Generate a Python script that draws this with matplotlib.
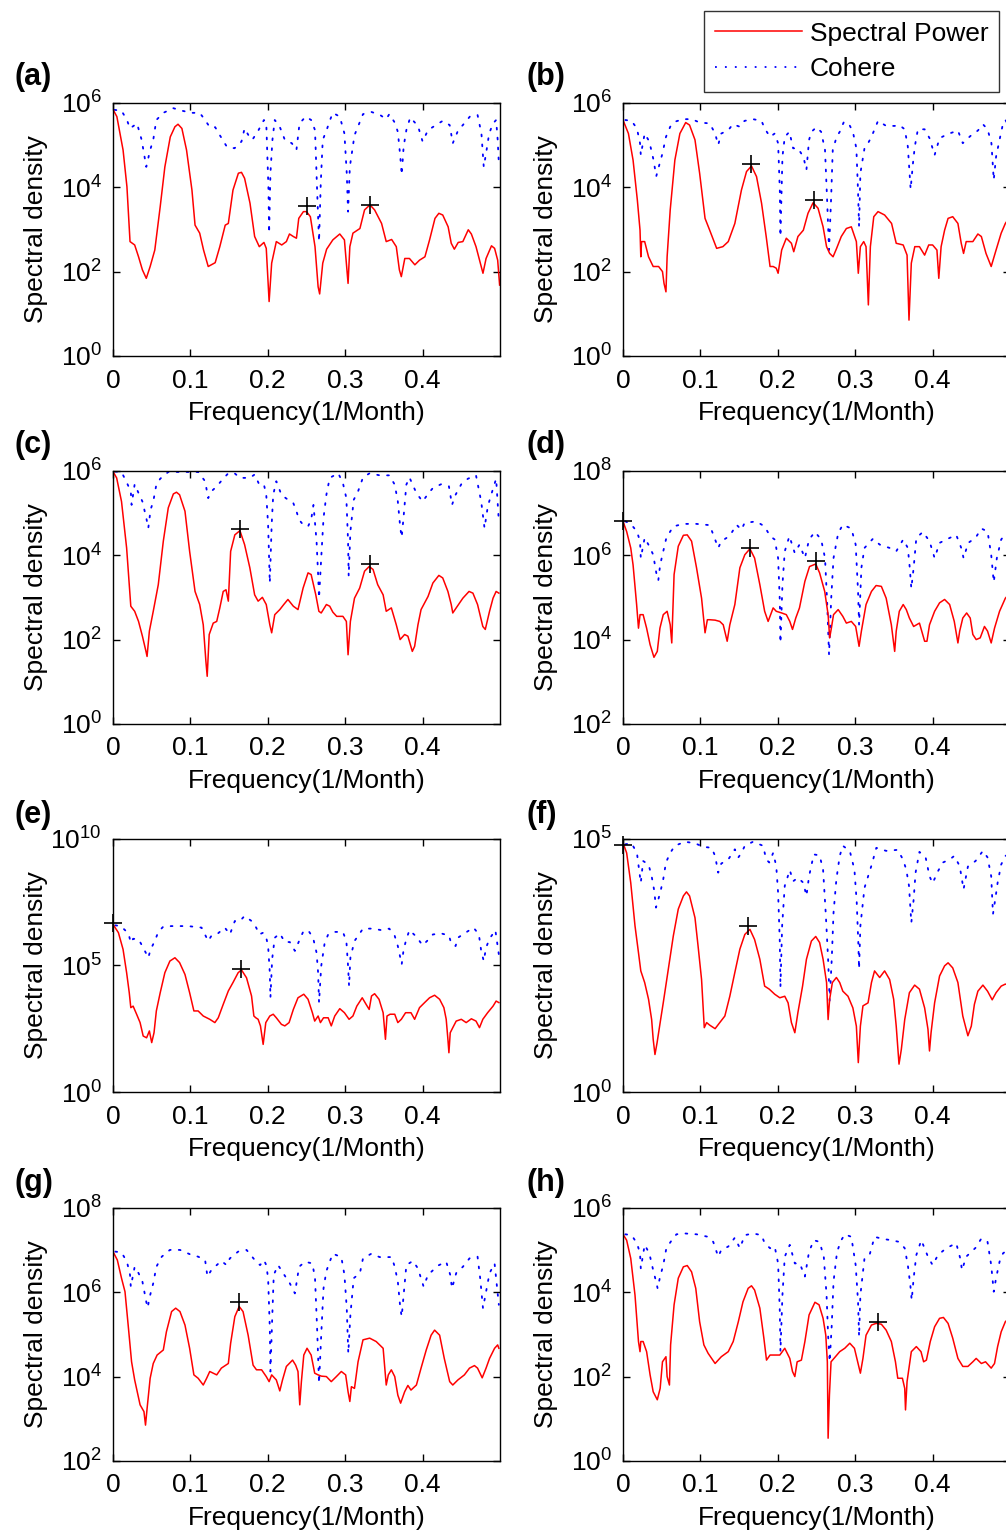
import matplotlib
matplotlib.use('Agg')
import matplotlib.pyplot as plt
import numpy as np
from matplotlib.lines import Line2D

plt.rcParams['font.family'] = ['Liberation Sans', 'DejaVu Sans']
plt.rcParams['mathtext.default'] = 'regular'

# ---------------- data: (frequency 1/month, log10 spectral density) ----------------
A_SPEC = [(0, 5.84), (.005, 5.67), (.013, 4.88), (.018, 4.01), (.022, 2.71), (.028, 2.63), (.033, 2.35), (.038, 2.04),
          (.043, 1.84), (.048, 2.12), (.054, 2.51), (.061, 3.54), (.067, 4.48), (.074, 5.19), (.080, 5.43), (.084, 5.49),
          (.089, 5.39), (.095, 4.88), (.102, 3.93), (.106, 3.10), (.112, 2.91), (.117, 2.51), (.123, 2.12), (.132, 2.21),
          (.138, 2.59), (.145, 3.10), (.149, 3.14), (.155, 3.93), (.162, 4.33), (.166, 4.35), (.170, 4.21), (.177, 3.62),
          (.183, 2.83), (.189, 2.59), (.195, 2.69), (.198, 2.55), (.2017, 1.29), (.205, 2.20), (.211, 2.71), (.218, 2.63),
          (.224, 2.71), (.228, 2.89), (.233, 2.83), (.237, 2.79), (.240, 3.26), (.246, 3.42), (.250, 3.42), (.255, 3.30),
          (.261, 2.59), (.265, 1.64), (.267, 1.47), (.271, 2.20), (.276, 2.53), (.284, 2.75), (.293, 2.89), (.299, 2.75),
          (.3037, 1.72), (.306, 2.59), (.310, 2.91), (.319, 3.02), (.325, 3.46), (.332, 3.58), (.338, 3.46), (.347, 3.14),
          (.353, 2.71), (.360, 2.76), (.366, 2.59), (.370, 2.04), (.3725, 1.88), (.377, 2.31), (.383, 2.31), (.390, 2.16),
          (.396, 2.27), (.403, 2.35), (.409, 2.75), (.416, 3.26), (.421, 3.38), (.426, 3.34), (.433, 3.06), (.437, 2.67),
          (.441, 2.53), (.446, 2.69), (.452, 2.71), (.459, 2.99), (.463, 2.89), (.469, 2.59), (.478, 1.96), (.482, 2.31),
          (.489, 2.61), (.493, 2.55), (.497, 2.27), (.4995, 1.68)]
A_COH = [(.002, 5.83), (.011, 5.81), (.018, 5.59), (.022, 5.39), (.031, 5.51), (.037, 5.12), (.043, 4.48), (.048, 4.88),
         (.052, 5.12), (.056, 5.59), (.065, 5.76), (.078, 5.87), (.089, 5.81), (.102, 5.76), (.112, 5.76), (.119, 5.59),
         (.125, 5.42), (.132, 5.42), (.138, 5.23), (.147, 4.96), (.157, 4.92), (.166, 5.08), (.170, 5.39), (.175, 5.23),
         (.180, 5.12), (.188, 5.35), (.195, 5.59), (.198, 5.53), (.2009, 3.93), (.2017, 2.91), (.2034, 4.33), (.206, 5.12),
         (.209, 5.59), (.215, 5.45), (.222, 5.12), (.231, 5.04), (.237, 4.88), (.241, 5.51), (.249, 5.67), (.256, 5.59),
         (.261, 5.35), (.2637, 3.93), (.2662, 2.71), (.2684, 4.09), (.271, 5.12), (.276, 5.35), (.280, 5.57), (.284, 5.76),
         (.293, 5.67), (.299, 5.27), (.302, 4.33), (.3037, 3.42), (.306, 4.48), (.312, 5.23), (.323, 5.73), (.334, 5.78),
         (.345, 5.71), (.353, 5.61), (.357, 5.73), (.364, 5.53), (.368, 5.31), (.3712, 4.72), (.373, 4.29), (.3755, 4.96),
         (.379, 5.35), (.384, 5.65), (.394, 5.45), (.400, 5.08), (.407, 5.35), (.4155, 5.45), (.426, 5.57), (.435, 5.47),
         (.439, 5.04), (.446, 5.35), (.452, 5.47), (.461, 5.67), (.471, 5.71), (.476, 5.27), (.479, 4.48), (.482, 4.80),
         (.486, 5.27), (.491, 5.51), (.495, 5.59), (.497, 5.12), (.4985, 4.56)]
A_PEAKS = [(.25, 3.56), (.332, 3.58)]

B_SPEC = [(0, 5.59), (.007, 5.27), (.013, 4.64), (.0185, 3.70), (.022, 2.98), (.023, 2.35), (.024, 2.71), (.028, 2.71),
          (.033, 2.35), (.039, 2.12), (.046, 2.12), (.051, 2.00), (.053, 1.72), (.0555, 1.52), (.057, 2.35), (.061, 3.46),
          (.067, 4.64), (.0735, 5.27), (.081, 5.53), (.086, 5.47), (.093, 5.12), (.099, 4.33), (.106, 3.26), (.112, 2.98),
          (.121, 2.55), (.129, 2.59), (.136, 2.71), (.1445, 3.14), (.153, 3.93), (.1596, 4.37), (.166, 4.50), (.1725, 4.25),
          (.179, 3.62), (.185, 2.83), (.190, 2.12), (.194, 2.12), (.198, 2.08), (.2004, 1.96), (.205, 2.51), (.211, 2.79),
          (.2176, 2.67), (.2206, 2.47), (.226, 2.83), (.233, 2.98), (.239, 3.38), (.2456, 3.63), (.252, 3.50), (.2585, 3.06),
          (.263, 2.59), (.267, 2.43), (.2714, 2.35), (.276, 2.55), (.282, 2.83), (.2886, 3.02), (.295, 3.06), (.3015, 2.71),
          (.304, 1.96), (.3067, 2.59), (.311, 2.71), (.314, 2.59), (.317, 1.21), (.3196, 2.59), (.324, 3.30), (.3295, 3.42),
          (.338, 3.34), (.347, 3.14), (.353, 2.67), (.362, 2.63), (.367, 2.39), (.3695, 0.85), (.3725, 2.20), (.377, 2.59),
          (.383, 2.59), (.3897, 2.39), (.395, 2.63), (.400, 2.63), (.4056, 2.51), (.408, 1.84), (.411, 2.59), (.4155, 2.98),
          (.420, 3.26), (.426, 3.30), (.4327, 3.14), (.437, 2.67), (.440, 2.43), (.4434, 2.71), (.452, 2.71), (.4585, 2.89),
          (.463, 2.83), (.469, 2.43), (.4757, 2.12), (.482, 2.51), (.4886, 2.91), (.494, 3.14), (.5, 3.3)]
B_COH = [(.003, 5.59), (.011, 5.57), (.018, 5.39), (.022, 5.04), (.023, 4.76), (.028, 5.27), (.034, 5.08), (.039, 4.68),
         (.043, 4.26), (.048, 4.60), (.051, 4.80), (.0555, 5.19), (.061, 5.43), (.067, 5.55), (.078, 5.61), (.089, 5.61),
         (.099, 5.53), (.112, 5.51), (.119, 5.27), (.123, 5.00), (.127, 5.27), (.136, 5.35), (.142, 5.49), (.151, 5.43),
         (.157, 5.57), (.168, 5.61), (.179, 5.57), (.183, 5.39), (.190, 5.19), (.196, 5.27), (.2004, 5.04), (.2026, 3.93),
         (.2034, 2.83), (.206, 4.72), (.209, 5.19), (.215, 5.31), (.2198, 4.92), (.226, 4.92), (.233, 4.72), (.237, 4.41),
         (.2404, 5.12), (.2434, 5.31), (.25, 5.42), (.256, 5.31), (.261, 4.88), (.2637, 3.70), (.2662, 2.51), (.2688, 3.70),
         (.271, 4.88), (.276, 5.19), (.28, 5.31), (.285, 5.53), (.291, 5.53), (.297, 5.31), (.3015, 4.92), (.3037, 3.89),
         (.305, 3.06), (.3067, 4.33), (.312, 4.92), (.3166, 5.04), (.321, 5.19), (.3295, 5.57), (.340, 5.45), (.351, 5.45),
         (.357, 5.47), (.364, 5.37), (.368, 4.96), (.3716, 3.95), (.3746, 4.56), (.377, 4.96), (.381, 5.37), (.3897, 5.37),
         (.396, 5.16), (.4026, 4.76), (.409, 5.16), (.420, 5.26), (.4327, 5.34), (.439, 5.04), (.4434, 5.12), (.450, 5.23),
         (.4585, 5.34), (.465, 5.49), (.471, 5.37), (.476, 5.04), (.479, 4.17), (.482, 4.72), (.4865, 5.12), (.491, 5.51),
         (.494, 5.59), (.5, 5.4)]
B_PEAKS = [(.166, 4.55), (.2465, 3.70)]

C_SPEC = [(0, 5.98), (.0047, 5.83), (.011, 5.27), (.0176, 4.17), (.023, 2.79), (.028, 2.67), (.033, 2.43), (.038, 2.08),
          (.0426, 1.72), (.044, 1.60), (.047, 2.20), (.052, 2.67), (.0585, 3.30), (.065, 4.33), (.0714, 5.12), (.078, 5.45),
          (.082, 5.49), (.086, 5.43), (.093, 5.04), (.099, 4.09), (.106, 3.14), (.112, 2.83), (.1166, 2.35), (.120, 1.49),
          (.1217, 1.13), (.1243, 2.12), (.1295, 2.39), (.134, 2.43), (.138, 2.75), (.1424, 3.14), (.146, 3.18), (.149, 2.91),
          (.152, 4.09), (.1574, 4.48), (.164, 4.58), (.170, 4.25), (.1768, 3.70), (.183, 3.06), (.1875, 2.91), (.193, 3.00),
          (.198, 2.83), (.2026, 2.35), (.205, 2.16), (.209, 2.59), (.2155, 2.71), (.2206, 2.83), (.226, 2.95), (.233, 2.79),
          (.239, 2.71), (.2456, 3.22), (.252, 3.58), (.256, 3.54), (.262, 3.06), (.266, 2.67), (.269, 2.63), (.2757, 2.83),
          (.280, 2.79), (.284, 2.65), (.289, 2.55), (.297, 2.55), (.3015, 2.43), (.3037, 1.64), (.3067, 2.43), (.312, 2.98),
          (.3187, 3.22), (.325, 3.62), (.331, 3.73), (.336, 3.66), (.342, 3.30), (.349, 3.06), (.353, 2.67), (.3596, 2.75),
          (.366, 2.35), (.371, 2.00), (.3768, 2.12), (.381, 2.08), (.3867, 1.72), (.3897, 1.84), (.394, 2.35), (.398, 2.71),
          (.407, 3.02), (.4133, 3.34), (.421, 3.52), (.426, 3.46), (.4327, 3.14), (.437, 2.83), (.439, 2.63), (.4434, 2.75),
          (.452, 2.98), (.46, 3.14), (.465, 3.10), (.471, 2.83), (.4778, 2.31), (.481, 2.24), (.4865, 2.67), (.491, 2.98),
          (.495, 3.14), (.4985, 3.10)]
C_COH = [(.003, 5.98), (.011, 5.97), (.018, 5.71), (.023, 5.51), (.024, 5.19), (.028, 5.68), (.033, 5.47), (.038, 5.27),
         (.043, 4.88), (.0456, 4.64), (.0486, 5.08), (.052, 5.27), (.056, 5.67), (.061, 5.81), (.0714, 5.97), (.093, 5.97),
         (.110, 5.97), (.119, 5.75), (.123, 5.35), (.127, 5.51), (.133, 5.61), (.1424, 5.81), (.149, 5.94), (.157, 5.94),
         (.164, 5.83), (.1768, 5.83), (.183, 5.91), (.189, 5.67), (.195, 5.67), (.198, 5.43), (.2004, 4.72), (.2026, 3.34),
         (.205, 4.72), (.207, 5.43), (.211, 5.75), (.2176, 5.43), (.224, 5.34), (.233, 5.23), (.237, 5.04), (.2404, 4.84),
         (.2456, 4.72), (.252, 4.68), (.256, 4.84), (.259, 5.19), (.263, 4.33), (.265, 3.54), (.2662, 2.98), (.269, 3.93),
         (.272, 4.88), (.2757, 5.43), (.28, 5.83), (.291, 5.94), (.297, 5.71), (.3015, 5.35), (.3037, 4.33), (.3045, 3.50),
         (.3067, 4.56), (.311, 5.31), (.3166, 5.51), (.323, 5.84), (.3316, 5.94), (.3445, 5.89), (.357, 5.89), (.364, 5.67),
         (.368, 5.27), (.3712, 4.64), (.373, 4.42), (.3755, 4.92), (.379, 5.67), (.383, 5.84), (.392, 5.47), (.400, 5.27),
         (.407, 5.45), (.4133, 5.59), (.424, 5.68), (.434, 5.63), (.438, 5.19), (.4426, 5.43), (.45, 5.68), (.4585, 5.81),
         (.469, 5.89), (.4757, 5.27), (.48, 4.64), (.4843, 5.16), (.4886, 5.43), (.495, 5.81), (.4985, 4.80)]
C_PEAKS = [(.164, 4.62), (.3316, 3.80)]

D_SPEC = [(0, 6.80), (.0047, 6.56), (.01, 6.17), (.013, 5.77), (.0176, 4.83), (.020, 4.27), (.022, 4.59), (.026, 4.59),
          (.0305, 4.27), (.035, 3.88), (.040, 3.58), (.0443, 3.72), (.0477, 4.27), (.052, 4.59), (.057, 4.67), (.061, 4.35),
          (.063, 3.92), (.066, 5.54), (.0714, 6.21), (.078, 6.47), (.083, 6.48), (.0886, 6.33), (.095, 5.70), (.1015, 4.98),
          (.106, 4.16), (.109, 4.47), (.112, 4.47), (.119, 4.46), (.125, 4.43), (.1295, 4.35), (.1346, 3.96), (.138, 4.35),
          (.1445, 4.83), (.151, 5.70), (.1574, 6.01), (.164, 6.15), (.170, 5.93), (.1768, 5.30), (.183, 4.67), (.1875, 4.43),
          (.194, 4.75), (.198, 4.67), (.205, 4.63), (.211, 4.59), (.2155, 4.43), (.219, 4.24), (.2232, 4.51), (.228, 4.75),
          (.235, 5.38), (.241, 5.73), (.249, 5.79), (.254, 5.58), (.2606, 5.14), (.265, 4.59), (.267, 4.04), (.2692, 4.27),
          (.272, 4.59), (.278, 4.71), (.284, 4.55), (.2886, 4.39), (.295, 4.43), (.3006, 4.31), (.305, 3.84), (.308, 4.20),
          (.314, 4.83), (.321, 5.14), (.327, 5.28), (.3338, 5.26), (.340, 4.98), (.3467, 4.35), (.351, 3.72), (.353, 4.20),
          (.357, 4.67), (.362, 4.83), (.366, 4.71), (.370, 4.51), (.3755, 4.31), (.383, 4.39), (.3897, 3.96), (.3927, 3.96),
          (.396, 4.35), (.4026, 4.67), (.409, 4.87), (.4155, 4.95), (.422, 4.83), (.428, 4.43), (.4327, 3.92), (.435, 4.20),
          (.439, 4.51), (.444, 4.63), (.4486, 4.51), (.452, 4.12), (.4563, 4.00), (.4615, 4.04), (.467, 4.31), (.471, 4.20),
          (.4757, 3.92), (.480, 4.27), (.4865, 4.67), (.494, 4.98), (.5, 5.1)]
D_COH = [(.003, 6.80), (.01, 6.74), (.018, 6.56), (.022, 6.33), (.023, 5.93), (.028, 6.41), (.034, 6.21), (.039, 6.01),
         (.043, 5.58), (.0456, 5.40), (.048, 5.77), (.051, 6.01), (.056, 6.41), (.065, 6.68), (.078, 6.74), (.095, 6.74),
         (.112, 6.71), (.119, 6.37), (.123, 6.17), (.127, 6.33), (.134, 6.41), (.140, 6.52), (.1467, 6.72), (.153, 6.60),
         (.157, 6.76), (.172, 6.80), (.183, 6.68), (.190, 6.45), (.196, 6.37), (.2004, 5.93), (.2026, 4.91), (.2034, 3.92),
         (.206, 5.30), (.209, 6.09), (.215, 6.45), (.2219, 6.05), (.228, 6.25), (.235, 5.93), (.2404, 6.37), (.248, 6.55),
         (.256, 6.37), (.261, 5.93), (.2637, 4.91), (.2662, 3.64), (.269, 4.98), (.272, 5.93), (.278, 6.52), (.284, 6.72),
         (.295, 6.63), (.3006, 6.25), (.3037, 5.14), (.305, 4.35), (.308, 5.70), (.312, 6.17), (.323, 6.39), (.3316, 6.25),
         (.3445, 6.17), (.353, 6.09), (.362, 6.37), (.368, 6.17), (.3705, 5.70), (.3725, 5.21), (.3755, 5.70), (.379, 6.41),
         (.3875, 6.55), (.396, 6.33), (.4026, 5.93), (.409, 6.29), (.420, 6.39), (.4305, 6.48), (.437, 6.17), (.440, 5.93),
         (.446, 6.29), (.4555, 6.41), (.463, 6.63), (.471, 6.56), (.4757, 6.01), (.479, 5.36), (.483, 5.93), (.4886, 6.37),
         (.494, 6.50), (.5, 6.4)]
D_PEAKS = [(0, 6.80), (.164, 6.18), (.249, 5.85)]

E_SPEC = [(0, 6.62), (.007, 6.29), (.013, 5.63), (.0176, 4.71), (.021, 3.92), (.023, 3.33), (.026, 3.39), (.0305, 3.07),
          (.035, 2.74), (.039, 2.21), (.0434, 2.14), (.047, 2.41), (.050, 1.95), (.053, 2.34), (.056, 3.20), (.061, 3.92),
          (.067, 4.71), (.0735, 5.17), (.080, 5.30), (.086, 5.11), (.093, 4.64), (.099, 3.92), (.1045, 3.20), (.110, 3.20),
          (.1166, 3.00), (.125, 2.87), (.1316, 2.74), (.136, 2.93), (.1424, 3.46), (.149, 3.99), (.155, 4.32), (.1617, 4.71),
          (.166, 4.82), (.1725, 4.51), (.179, 3.79), (.182, 3.00), (.1845, 2.93), (.1875, 2.87), (.1905, 2.61), (.194, 1.88),
          (.1974, 2.74), (.2026, 3.00), (.207, 3.07), (.211, 2.93), (.2176, 2.67), (.222, 2.61), (.2275, 2.74), (.233, 3.26),
          (.239, 3.72), (.2465, 3.86), (.252, 3.66), (.2576, 3.13), (.2606, 2.80), (.265, 3.00), (.268, 2.74), (.272, 2.93),
          (.278, 2.93), (.282, 2.61), (.2865, 3.00), (.293, 3.29), (.299, 3.13), (.305, 2.87), (.310, 3.00), (.315, 3.39),
          (.322, 3.72), (.327, 3.46), (.331, 3.26), (.334, 3.79), (.338, 3.88), (.3437, 3.66), (.349, 3.13), (.352, 2.08),
          (.354, 3.00), (.358, 3.07), (.364, 3.07), (.368, 2.74), (.3725, 2.87), (.378, 3.13), (.385, 3.13), (.3897, 2.87),
          (.396, 3.33), (.4026, 3.53), (.409, 3.72), (.4155, 3.82), (.422, 3.66), (.4275, 3.33), (.4305, 2.87), (.4327, 2.08),
          (.434, 1.55), (.4357, 2.34), (.439, 2.54), (.4434, 2.80), (.450, 2.87), (.4563, 2.74), (.463, 2.89), (.469, 2.80),
          (.4735, 2.54), (.4778, 2.87), (.484, 3.13), (.491, 3.39), (.495, 3.59), (.4985, 3.53)]
E_COH = [(.003, 6.58), (.01, 6.55), (.020, 6.26), (.023, 5.89), (.026, 6.05), (.033, 6.03), (.039, 5.70), (.0456, 5.30),
         (.0486, 5.63), (.054, 5.96), (.0585, 6.32), (.065, 6.53), (.0757, 6.55), (.097, 6.55), (.1144, 6.49), (.123, 5.96),
         (.127, 6.16), (.134, 6.22), (.1445, 6.49), (.151, 6.22), (.1574, 6.75), (.164, 6.75), (.170, 6.95), (.179, 6.75),
         (.185, 6.49), (.189, 6.22), (.194, 6.29), (.198, 6.09), (.2004, 5.76), (.2026, 4.71), (.2034, 3.72), (.2056, 5.24),
         (.209, 6.09), (.2155, 6.26), (.222, 5.92), (.2284, 5.92), (.235, 5.57), (.2404, 5.96), (.2456, 6.32), (.252, 6.39),
         (.2585, 6.09), (.263, 5.50), (.265, 4.71), (.2662, 3.53), (.269, 4.97), (.2735, 5.89), (.278, 6.22), (.2865, 6.32),
         (.297, 6.32), (.3015, 5.96), (.3037, 4.97), (.305, 4.18), (.3067, 5.30), (.312, 5.96), (.323, 6.45), (.3359, 6.45),
         (.3466, 6.39), (.357, 6.45), (.364, 6.16), (.368, 5.76), (.3703, 5.43), (.373, 5.04), (.3755, 5.63), (.379, 6.03),
         (.383, 6.39), (.392, 6.13), (.400, 5.79), (.407, 6.00), (.4133, 6.22), (.424, 6.26), (.434, 6.18), (.437, 5.87),
         (.4426, 5.76), (.4456, 6.09), (.454, 6.26), (.4658, 6.49), (.4727, 6.22), (.4757, 5.57), (.479, 5.17), (.482, 5.70),
         (.4865, 6.05), (.494, 6.39), (.4985, 5.43)]
E_PEAKS = [(0, 6.66), (.166, 4.84)]

F_SPEC = [(0, 4.92), (.0047, 4.72), (.01, 4.13), (.0155, 3.28), (.020, 2.75), (.023, 2.39), (.028, 2.16), (.033, 1.83),
          (.037, 1.43), (.039, 1.04), (.0413, 0.74), (.044, 0.97), (.048, 1.37), (.052, 1.76), (.0585, 2.42), (.065, 3.08),
          (.0714, 3.61), (.078, 3.87), (.082, 3.95), (.086, 3.87), (.093, 3.44), (.097, 2.88), (.1015, 2.22), (.105, 1.27),
          (.108, 1.37), (.112, 1.32), (.119, 1.25), (.125, 1.37), (.1316, 1.50), (.138, 1.89), (.1445, 2.36), (.151, 2.82),
          (.1574, 3.11), (.164, 3.21), (.170, 3.01), (.1768, 2.62), (.183, 2.09), (.189, 2.03), (.196, 1.93), (.2026, 1.86),
          (.209, 1.89), (.2133, 1.76), (.2176, 1.37), (.222, 1.17), (.226, 1.57), (.232, 2.09), (.237, 2.62), (.2434, 2.98),
          (.249, 3.07), (.254, 2.95), (.2585, 2.62), (.263, 2.16), (.265, 1.43), (.267, 1.83), (.2705, 2.16), (.2757, 2.26),
          (.280, 2.16), (.284, 1.99), (.2907, 1.89), (.297, 1.66), (.3015, 1.30), (.304, 0.58), (.3067, 1.30), (.310, 1.70),
          (.3166, 1.76), (.321, 2.16), (.325, 2.39), (.3316, 2.26), (.338, 2.39), (.3445, 2.22), (.3497, 1.83), (.353, 1.30),
          (.3566, 0.55), (.3596, 0.84), (.364, 1.43), (.370, 1.96), (.3768, 2.11), (.383, 2.03), (.3897, 1.66), (.394, 1.24),
          (.396, 0.81), (.398, 1.17), (.4026, 1.76), (.409, 2.29), (.4155, 2.49), (.420, 2.55), (.426, 2.45), (.4327, 2.16),
          (.439, 1.50), (.4456, 1.11), (.450, 1.30), (.454, 1.73), (.4585, 1.99), (.465, 2.11), (.471, 1.99), (.477, 1.82),
          (.482, 1.96), (.4886, 2.09), (.494, 2.13), (.5, 2.1)]
F_COH = [(.003, 4.89), (.011, 4.91), (.018, 4.72), (.021, 4.36), (.023, 4.13), (.026, 4.56), (.033, 4.49), (.037, 4.26),
         (.0404, 3.97), (.0426, 3.64), (.0456, 3.80), (.0486, 3.97), (.052, 4.20), (.0555, 4.53), (.061, 4.72), (.067, 4.86),
         (.080, 4.94), (.093, 4.91), (.1037, 4.84), (.1144, 4.82), (.119, 4.66), (.123, 4.33), (.127, 4.51), (.136, 4.59),
         (.1445, 4.79), (.149, 4.63), (.153, 4.72), (.1574, 4.86), (.168, 4.94), (.181, 4.86), (.185, 4.59), (.189, 4.53),
         (.194, 4.72), (.198, 4.46), (.2004, 3.93), (.2026, 2.95), (.2034, 2.06), (.2056, 3.28), (.209, 4.07), (.2155, 4.38),
         (.2198, 4.16), (.226, 4.23), (.233, 4.13), (.237, 3.87), (.2404, 4.26), (.2465, 4.69), (.254, 4.67), (.2585, 4.39),
         (.262, 3.51), (.265, 2.62), (.267, 1.80), (.2697, 2.62), (.272, 3.54), (.2757, 4.20), (.280, 4.66), (.284, 4.86),
         (.293, 4.76), (.299, 4.39), (.302, 3.74), (.304, 2.95), (.305, 2.43), (.3067, 3.28), (.312, 4.03), (.321, 4.47),
         (.3273, 4.82), (.340, 4.76), (.355, 4.78), (.3617, 4.59), (.366, 4.39), (.3695, 4.07), (.3725, 3.34), (.3755, 3.80),
         (.378, 4.33), (.383, 4.74), (.391, 4.63), (.396, 4.26), (.400, 4.12), (.407, 4.36), (.4133, 4.53), (.422, 4.59),
         (.428, 4.66), (.435, 4.46), (.440, 4.00), (.4456, 4.45), (.4555, 4.56), (.465, 4.76), (.471, 4.63), (.4757, 4.26),
         (.478, 3.51), (.4813, 3.84), (.484, 4.13), (.4886, 4.49), (.494, 4.66), (.5, 4.7)]
F_PEAKS = [(0, 4.87), (.1617, 3.28)]

G_SPEC = [(0, 6.96), (.0056, 6.76), (.011, 6.33), (.0155, 6.01), (.020, 5.14), (.024, 4.35), (.028, 3.92), (.035, 3.33),
          (.040, 3.17), (.042, 2.85), (.0443, 3.29), (.048, 3.96), (.052, 4.31), (.057, 4.51), (.065, 4.63), (.069, 5.06),
          (.0757, 5.54), (.081, 5.62), (.0865, 5.54), (.093, 5.22), (.099, 4.67), (.1045, 4.04), (.110, 3.96), (.1166, 3.80),
          (.121, 3.96), (.125, 4.12), (.134, 4.04), (.140, 4.20), (.149, 4.31), (.152, 4.79), (.1574, 5.42), (.163, 5.66),
          (.168, 5.54), (.1746, 4.98), (.181, 4.27), (.1854, 4.16), (.192, 4.16), (.198, 4.00), (.2017, 3.88), (.205, 4.04),
          (.211, 3.92), (.2155, 3.66), (.219, 3.92), (.224, 4.24), (.232, 4.39), (.236, 4.27), (.239, 4.12), (.2413, 3.33),
          (.2434, 3.88), (.2465, 4.51), (.2507, 4.67), (.256, 4.51), (.2606, 4.08), (.265, 4.04), (.2692, 4.01), (.2757, 4.00),
          (.282, 3.88), (.2886, 4.00), (.295, 4.12), (.3006, 4.04), (.3037, 3.64), (.306, 3.41), (.308, 3.76), (.312, 3.72),
          (.3166, 4.35), (.323, 4.87), (.3316, 4.91), (.340, 4.83), (.349, 4.67), (.353, 3.80), (.3557, 4.04), (.3596, 4.16),
          (.364, 4.00), (.368, 3.56), (.3716, 3.37), (.3768, 3.64), (.381, 3.79), (.385, 3.68), (.392, 3.80), (.398, 4.20),
          (.4047, 4.63), (.411, 4.98), (.4155, 5.10), (.422, 4.98), (.428, 4.43), (.435, 3.88), (.439, 3.80), (.4456, 3.92),
          (.454, 4.04), (.4606, 4.20), (.467, 4.26), (.471, 4.20), (.477, 3.97), (.482, 4.20), (.4865, 4.43), (.493, 4.67),
          (.497, 4.75), (.4985, 4.67)]
G_COH = [(.003, 6.96), (.011, 6.94), (.018, 6.72), (.022, 6.41), (.023, 6.13), (.028, 6.60), (.033, 6.45), (.038, 6.25),
         (.043, 5.77), (.0447, 5.63), (.048, 5.93), (.052, 6.21), (.056, 6.60), (.063, 6.84), (.0735, 7.00), (.0865, 7.00),
         (.099, 6.90), (.110, 6.84), (.119, 6.76), (.122, 6.37), (.127, 6.52), (.1316, 6.60), (.140, 6.74), (.1467, 6.64),
         (.151, 6.80), (.1617, 6.96), (.1725, 7.00), (.185, 6.72), (.190, 6.64), (.195, 6.76), (.198, 6.64), (.2004, 6.33),
         (.2026, 5.14), (.2034, 4.12), (.206, 5.54), (.2077, 6.41), (.2133, 6.64), (.2198, 6.45), (.2284, 6.21), (.235, 5.97),
         (.2404, 6.60), (.248, 6.72), (.2576, 6.68), (.261, 6.33), (.2637, 5.14), (.2662, 3.84), (.269, 4.98), (.272, 6.09),
         (.2757, 6.50), (.28, 6.72), (.284, 6.91), (.295, 6.83), (.299, 6.41), (.302, 5.62), (.304, 4.55), (.3067, 5.46),
         (.311, 6.33), (.319, 6.45), (.323, 6.80), (.3338, 6.91), (.3445, 6.83), (.36, 6.83), (.364, 6.60), (.368, 6.25),
         (.3712, 5.62), (.373, 5.42), (.3755, 5.93), (.379, 6.64), (.3875, 6.74), (.394, 6.56), (.4013, 6.13), (.407, 6.41),
         (.420, 6.63), (.4305, 6.72), (.4357, 6.41), (.438, 6.09), (.4434, 6.45), (.452, 6.60), (.4606, 6.80), (.471, 6.84),
         (.4744, 6.33), (.478, 5.62), (.482, 6.01), (.4865, 6.45), (.493, 6.68), (.4985, 5.70)]
G_PEAKS = [(.1633, 5.77)]

H_SPEC = [(0, 5.37), (.0047, 5.23), (.01, 4.80), (.0155, 3.93), (.020, 2.83), (.022, 2.59), (.023, 2.83), (.026, 2.83),
          (.0305, 2.59), (.035, 2.04), (.039, 1.64), (.0443, 1.45), (.048, 1.72), (.051, 2.35), (.0555, 2.47), (.057, 2.00),
          (.060, 1.80), (.0615, 2.75), (.066, 3.70), (.0714, 4.33), (.078, 4.60), (.083, 4.63), (.0886, 4.48), (.094, 4.09),
          (.099, 3.30), (.1045, 2.75), (.110, 2.55), (.119, 2.31), (.127, 2.47), (.136, 2.59), (.1424, 2.83), (.149, 3.30),
          (.155, 3.77), (.1617, 4.09), (.166, 4.15), (.170, 4.05), (.1768, 3.62), (.182, 2.91), (.1854, 2.39), (.190, 2.51),
          (.196, 2.51), (.2026, 2.51), (.209, 2.67), (.2155, 2.43), (.219, 2.12), (.222, 2.00), (.225, 2.35), (.2305, 2.39),
          (.235, 2.83), (.2404, 3.46), (.248, 3.76), (.2533, 3.70), (.2585, 3.38), (.262, 2.98), (.264, 2.35), (.265, 0.54),
          (.2667, 1.56), (.2688, 2.35), (.2735, 2.45), (.280, 2.59), (.2865, 2.67), (.293, 2.79), (.299, 2.67), (.3037, 2.31),
          (.3067, 2.08), (.310, 2.43), (.314, 2.98), (.321, 3.22), (.327, 3.26), (.3338, 3.24), (.340, 3.10), (.3467, 2.83),
          (.352, 2.35), (.355, 1.96), (.361, 1.96), (.364, 1.72), (.365, 1.21), (.367, 1.88), (.3725, 2.59), (.379, 2.71),
          (.385, 2.59), (.3884, 2.35), (.392, 2.39), (.397, 2.83), (.4026, 3.18), (.409, 3.38), (.414, 3.40), (.420, 3.26),
          (.426, 2.91), (.4327, 2.43), (.439, 2.24), (.4456, 2.24), (.452, 2.35), (.4563, 2.43), (.463, 2.31), (.4684, 2.35),
          (.4757, 2.20), (.480, 2.31), (.484, 2.71), (.4886, 3.06), (.494, 3.30), (.5, 3.4)]
H_COH = [(.003, 5.37), (.011, 5.35), (.018, 5.16), (.022, 4.92), (.023, 4.56), (.028, 5.12), (.034, 4.92), (.039, 4.52),
         (.043, 4.23), (.0447, 4.09), (.048, 4.37), (.052, 4.64), (.056, 5.04), (.063, 5.23), (.069, 5.37), (.080, 5.39),
         (.095, 5.37), (.110, 5.31), (.1166, 5.19), (.123, 4.84), (.127, 5.00), (.136, 5.08), (.1445, 5.29), (.151, 5.04),
         (.1574, 5.35), (.168, 5.39), (.179, 5.35), (.183, 5.16), (.190, 5.04), (.196, 5.08), (.2004, 4.68), (.2026, 3.54),
         (.2034, 2.59), (.206, 3.93), (.209, 4.84), (.2155, 5.12), (.222, 4.68), (.2284, 4.68), (.235, 4.37), (.2404, 4.96),
         (.2465, 5.23), (.254, 5.19), (.2594, 4.84), (.263, 3.93), (.265, 2.98), (.267, 2.35), (.2697, 3.22), (.272, 4.25),
         (.2766, 4.96), (.282, 5.23), (.2865, 5.37), (.295, 5.31), (.3006, 4.64), (.3037, 3.77), (.305, 2.95), (.3067, 3.93),
         (.312, 4.80), (.3187, 4.89), (.325, 5.31), (.3359, 5.26), (.3467, 5.23), (.357, 5.19), (.364, 5.04), (.368, 4.64),
         (.3712, 4.17), (.373, 3.81), (.3755, 4.33), (.379, 4.88), (.3854, 5.23), (.394, 4.84), (.400, 4.64), (.407, 4.88),
         (.4176, 5.04), (.4305, 5.16), (.4357, 4.80), (.438, 4.52), (.4434, 4.84), (.4555, 5.05), (.463, 5.27), (.471, 5.19),
         (.4757, 4.64), (.479, 4.01), (.482, 4.33), (.4865, 4.72), (.491, 4.92), (.494, 4.96), (.5, 5.0)]
H_PEAKS = [(.3295, 3.30)]

PANEL_LABELS = ['(a)', '(b)', '(c)', '(d)', '(e)', '(f)', '(g)', '(h)']
Y_LIMITS = [(0, 6), (0, 6), (0, 6), (2, 8), (0, 10), (0, 5), (2, 8), (0, 6)]   # log10 decades
Y_TICKS = [[0, 2, 4, 6], [0, 2, 4, 6], [0, 2, 4, 6], [2, 4, 6, 8], [0, 5, 10], [0, 5], [2, 4, 6, 8], [0, 2, 4, 6]]
X_TICKS = [0, 0.1, 0.2, 0.3, 0.4]
X_TICKLABELS = ['0', '0.1', '0.2', '0.3', '0.4']
SPECS = [A_SPEC, B_SPEC, C_SPEC, D_SPEC, E_SPEC, F_SPEC, G_SPEC, H_SPEC]
COHS = [A_COH, B_COH, C_COH, D_COH, E_COH, F_COH, G_COH, H_COH]
PEAKS = [A_PEAKS, B_PEAKS, C_PEAKS, D_PEAKS, E_PEAKS, F_PEAKS, G_PEAKS, H_PEAKS]

# ---------------- figure ----------------
W, H = 1006, 1535
fig = plt.figure(figsize=(W / 100, H / 100), dpi=100)
col_left = [113, 623]
row_top = [102.7, 470.7, 838.7, 1207.7]
ax_w, ax_h = 387, 253.3
FS = 19
DOT = (0, (1, 4.5))

for i in range(8):
    r, c = divmod(i, 2)
    ax = fig.add_axes([col_left[c] / W, 1 - (row_top[r] + ax_h) / H, ax_w / W, ax_h / H])
    spec = np.array(SPECS[i])
    coh = np.array(COHS[i])
    pk = np.array(PEAKS[i])
    ax.plot(coh[:, 0], np.power(10.0, coh[:, 1]), color='#0000ff', lw=1.3,
            linestyle=DOT, dash_capstyle='round')
    ax.plot(spec[:, 0], np.power(10.0, spec[:, 1]), color='#ff0000', lw=1.1)
    ax.plot(pk[:, 0], np.power(10.0, pk[:, 1]), linestyle='none', marker='+',
            color='black', markersize=13, mew=1.2, clip_on=False, zorder=5)
    ax.set_yscale('log')
    lo, hi = Y_LIMITS[i]
    ax.set_ylim(10.0 ** lo, 10.0 ** hi)
    ax.set_xlim(0, 0.5)
    ax.set_yticks([10.0 ** t for t in Y_TICKS[i]])
    ax.set_yticklabels([r'$10^{%d}$' % t for t in Y_TICKS[i]])
    ax.yaxis.set_minor_locator(matplotlib.ticker.NullLocator())
    ax.set_xticks(X_TICKS)
    ax.set_xticklabels(X_TICKLABELS)
    ax.tick_params(direction='in', top=True, right=True, length=5, width=1,
                   labelsize=FS, color='black')
    ax.tick_params(axis='x', pad=9)
    ax.tick_params(axis='y', pad=8)
    for s in ax.spines.values():
        s.set_linewidth(1.0)
        s.set_color('black')
    ax.set_xlabel('Frequency(1/Month)', fontsize=FS)
    ax.set_ylabel('Spectral density', fontsize=FS)
    ax.xaxis.set_label_coords(0.5, -0.178)
    ax.yaxis.set_label_coords(-0.168, 0.5)
    lab_x = [14, 526][c]
    lab_y = [77, 445, 815, 1183][r]
    fig.text(lab_x / W, 1 - lab_y / H, PANEL_LABELS[i], fontsize=22,
             fontweight='bold', va='center', ha='left')

handles = [Line2D([], [], color='#ff0000', lw=1.1),
           Line2D([], [], color='#0000ff', lw=1.3, linestyle=DOT)]
leg = fig.legend(handles, ['Spectral Power', 'Cohere'], loc='upper left',
                 bbox_to_anchor=(704 / W, 1 - 11 / H), fontsize=FS, frameon=True,
                 fancybox=False, edgecolor='black', handlelength=3.3,
                 borderpad=0.4, labelspacing=0.45, handletextpad=0.3, borderaxespad=0)
leg.get_frame().set_linewidth(1.0)

fig.savefig('out.png', dpi=100)
